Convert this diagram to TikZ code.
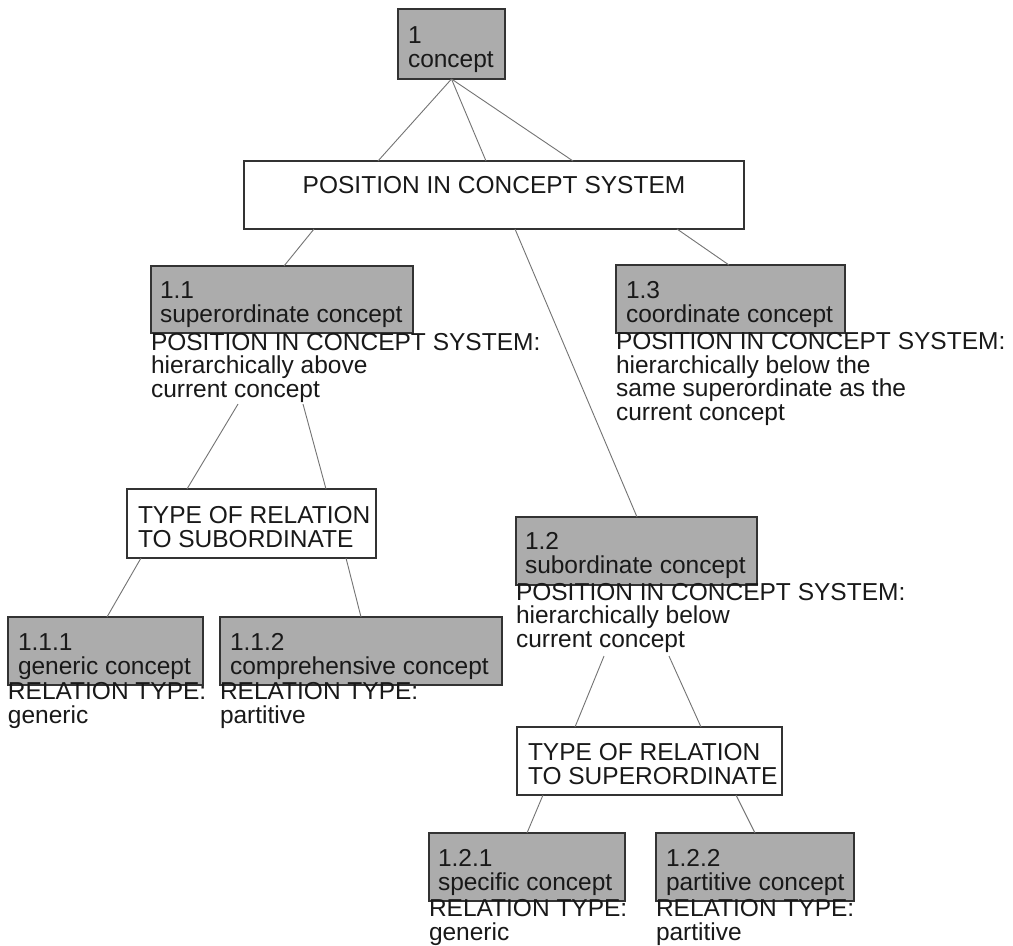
\documentclass[tikz,border=0pt]{standalone}
\usepackage{fontspec}
\setmainfont{Liberation Sans}
\begin{document}
\begin{tikzpicture}[x=1pt,y=-1pt,
  every node/.style={inner sep=0pt, outer sep=0pt},
  gbox/.style={draw=black!80, fill=gray!65, line width=1.4pt, anchor=north west},
  wbox/.style={draw=black!80, fill=white, line width=1.4pt, anchor=north west},
  txt/.style={font=\fontsize{24.5}{23.5}\selectfont, text=black!90, align=left, anchor=base west},
  link/.style={draw=black!55, line width=0.9pt}]
\fill[white] (0,0) rectangle (1013,946);
\useasboundingbox (0,0) rectangle (1013,946);

% text nodes are placed by the baseline of their last line

% root concept
\node[gbox, minimum width=107, minimum height=70] (c1) at (398,9) {};
\node[txt] (c1t) at (408,67) {1\\concept};

% characteristic box
\node[wbox, minimum width=500, minimum height=68] (pcs) at (244,161) {};
\node[txt, anchor=base] (pcst) at (494,193) {POSITION IN CONCEPT SYSTEM};

% 1.1 superordinate
\node[gbox, minimum width=262, minimum height=67] (n11) at (151,266) {};
\node[txt] (t11) at (160,322) {1.1\\superordinate concept};
\node[txt] (a11) at (151,397) {POSITION IN CONCEPT SYSTEM:\\hierarchically above\\current concept};

% 1.3 coordinate
\node[gbox, minimum width=229, minimum height=68] (n13) at (616,265) {};
\node[txt] (t13) at (626,322) {1.3\\coordinate concept};
\node[txt] (a13) at (616,420) {POSITION IN CONCEPT SYSTEM:\\hierarchically below the\\same superordinate as the\\current concept};

% relation to subordinate
\node[wbox, minimum width=249, minimum height=69] (tsub) at (127,489) {};
\node[txt] (tsubt) at (138,547) {TYPE OF RELATION\\TO SUBORDINATE};

% 1.1.1 and 1.1.2
\node[gbox, minimum width=195, minimum height=68] (n111) at (8,617) {};
\node[txt] (t111) at (18,674) {1.1.1\\generic concept};
\node[txt] (a111) at (8,723) {RELATION TYPE:\\generic};

\node[gbox, minimum width=282, minimum height=68] (n112) at (220,617) {};
\node[txt] (t112) at (230,674) {1.1.2\\comprehensive concept};
\node[txt] (a112) at (220,723) {RELATION TYPE:\\partitive};

% 1.2 subordinate
\node[gbox, minimum width=241, minimum height=68] (n12) at (516,517) {};
\node[txt] (t12) at (525,573) {1.2\\subordinate concept};
\node[txt] (a12) at (516,647) {POSITION IN CONCEPT SYSTEM:\\hierarchically below\\current concept};

% relation to superordinate
\node[wbox, minimum width=265, minimum height=68] (tsup) at (517,727) {};
\node[txt] (tsupt) at (528,784) {TYPE OF RELATION\\TO SUPERORDINATE};

% 1.2.1 and 1.2.2
\node[gbox, minimum width=196, minimum height=68] (n121) at (429,833) {};
\node[txt] (t121) at (438,890) {1.2.1\\specific concept};
\node[txt] (a121) at (429,940) {RELATION TYPE:\\generic};

\node[gbox, minimum width=198, minimum height=68] (n122) at (656,833) {};
\node[txt] (t122) at (666,890) {1.2.2\\partitive concept};
\node[txt] (a122) at (656,940) {RELATION TYPE:\\partitive};

% connectors
\draw[link] (c1.south) -- ([xshift=134pt]pcs.north west);
\draw[link] (c1.south) -- ([xshift=242pt]pcs.north west);
\draw[link] (c1.south) -- ([xshift=329pt]pcs.north west);

\draw[link] ([xshift=70pt]pcs.south west) -- ([xshift=133pt]n11.north west);
\draw[link] ([xshift=271pt]pcs.south west) -- ([xshift=121pt]n12.north west);
\draw[link] ([xshift=433pt]pcs.south west) -- ([xshift=113pt]n13.north west);

\draw[link] ([xshift=87pt,yshift=-2pt]a11.south west) -- ([xshift=60pt]tsub.north west);
\draw[link] ([xshift=152pt,yshift=-2pt]a11.south west) -- ([xshift=199pt]tsub.north west);

\draw[link] ([xshift=14pt]tsub.south west) -- ([xshift=99pt]n111.north west);
\draw[link] ([xshift=219pt]tsub.south west) -- ([xshift=141pt]n112.north west);

\draw[link] ([xshift=88pt,yshift=-4pt]a12.south west) -- ([xshift=58pt]tsup.north west);
\draw[link] ([xshift=153pt,yshift=-4pt]a12.south west) -- ([xshift=184pt]tsup.north west);

\draw[link] ([xshift=26pt]tsup.south west) -- ([xshift=98pt]n121.north west);
\draw[link] ([xshift=219pt]tsup.south west) -- ([xshift=99pt]n122.north west);
\end{tikzpicture}
\end{document}
